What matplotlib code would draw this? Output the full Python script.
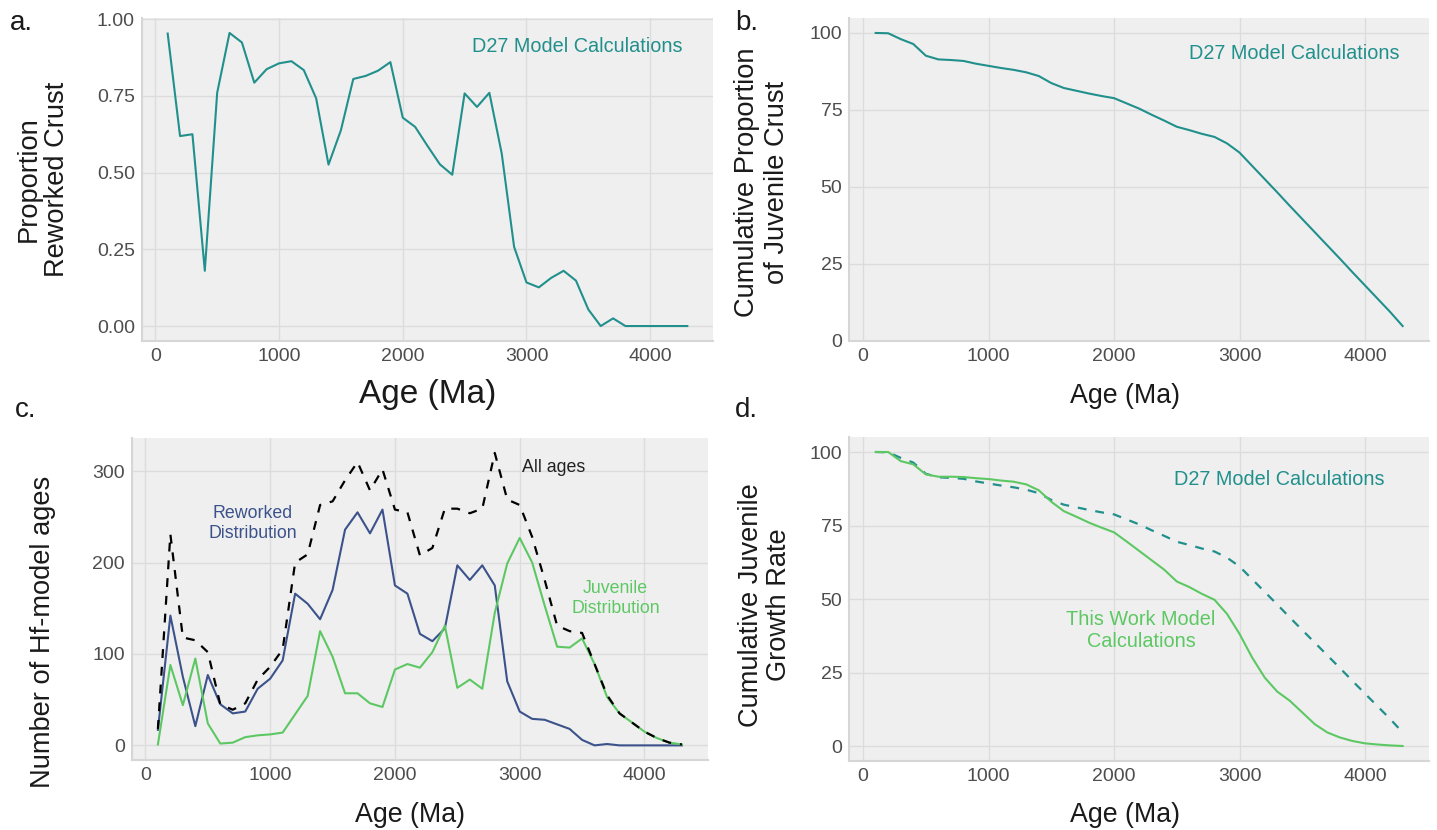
import matplotlib
matplotlib.use("Agg")
import matplotlib.pyplot as plt
from matplotlib.ticker import FormatStrFormatter

plt.rcParams['font.family'] = ['Liberation Sans', 'DejaVu Sans']

# Figure size in pixels (saved at dpi 100)
W, H = 1437, 830

# Colours (viridis picks, as in the original)
TEAL = '#21908C'
BLUE = '#3B528B'
GREEN = '#5DC863'
PANEL_BG = '#EFEFEF'
GRID = '#DCDCDC'
AXIS_LINE = '#D6D6D6'
TICK_COLOR = '#4D4D4D'

# Age bins (Ma)
ages = [100, 200, 300, 400, 500, 600, 700, 800, 900, 1000,
        1100, 1200, 1300, 1400, 1500, 1600, 1700, 1800, 1900, 2000,
        2100, 2200, 2300, 2400, 2500, 2600, 2700, 2800, 2900, 3000,
        3100, 3200, 3300, 3400, 3500, 3600, 3700, 3800, 3900, 4000,
        4100, 4200, 4300]

# a. proportion of reworked crust (D27 model)
reworked_prop = [0.953, 0.619, 0.625, 0.180, 0.760, 0.955, 0.924, 0.793, 0.837, 0.856,
                 0.863, 0.834, 0.742, 0.526, 0.638, 0.805, 0.815, 0.832, 0.860, 0.679,
                 0.649, 0.587, 0.527, 0.493, 0.758, 0.714, 0.760, 0.562, 0.258, 0.142,
                 0.126, 0.157, 0.180, 0.148, 0.054, 0.0, 0.025, 0.0, 0.0, 0.0,
                 0.0, 0.0, 0.0]

# b./d. cumulative juvenile crust, D27 model
d27_juvenile = [100.0, 99.9, 98.0, 96.4, 92.6, 91.4, 91.2, 90.9, 90.0, 89.3,
                88.6, 88.0, 87.2, 86.0, 83.7, 82.1, 81.2, 80.3, 79.5, 78.8,
                77.1, 75.4, 73.4, 71.5, 69.5, 68.4, 67.2, 66.2, 64.1, 61.1,
                56.8, 52.5, 48.2, 43.8, 39.5, 35.2, 30.9, 26.6, 22.2, 17.9,
                13.6, 9.3, 4.7]

# d. cumulative juvenile growth, this work
this_work = [100.0, 100.0, 96.9, 95.8, 92.4, 91.6, 91.6, 91.5, 91.1, 90.8,
             90.3, 89.9, 89.0, 87.0, 83.1, 79.9, 78.0, 76.0, 74.3, 72.7,
             69.6, 66.4, 63.2, 60.0, 56.0, 54.1, 51.8, 49.8, 45.0, 38.2,
             30.2, 23.4, 18.6, 15.5, 11.5, 7.5, 4.7, 3.0, 1.8, 1.0,
             0.6, 0.3, 0.1]

# c. Hf-model age counts
reworked_counts = [17, 142, 75, 21, 77, 45, 35, 37, 62, 73,
                   93, 166, 155, 138, 170, 236, 255, 232, 258, 175,
                   166, 122, 114, 128, 197, 181, 197, 175, 70, 37,
                   29, 28, 23, 18, 6, 0, 1.5, 0, 0, 0,
                   0, 0, 0]
juvenile_counts = [1, 88, 44, 95, 24, 2, 3, 9, 11, 12,
                   14, 34, 54, 125, 97, 57, 57, 46, 42, 83,
                   89, 85, 102, 131, 63, 72, 62, 145, 199, 227,
                   200, 153, 108, 107, 117, 89, 53, 35, 25, 15,
                   8, 3, 1]
all_counts = [18, 231, 118, 115, 102, 45, 39, 46, 72, 86,
              105, 200, 209, 263, 267, 290, 310, 279, 302, 258,
              255, 208, 216, 259, 259, 254, 259, 320, 269, 263,
              228, 181, 131, 125, 123, 89, 55, 35, 25, 15,
              8, 3, 1]

x_ticks = [0, 1000, 2000, 3000, 4000]


def px_rect(left, top, right, bottom):
    """Axes rectangle from pixel edges (origin top-left)"""
    return [left / W, 1 - bottom / H, (right - left) / W, (bottom - top) / H]


def fig_text(fig, x, y, s, **kw):
    """Figure text placed in pixel coordinates (origin top-left)"""
    return fig.text(x / W, 1 - y / H, s, **kw)


def style_axes(ax):
    ax.set_facecolor(PANEL_BG)
    for side in ('top', 'right'):
        ax.spines[side].set_visible(False)
    for side in ('left', 'bottom'):
        ax.spines[side].set_color(AXIS_LINE)
        ax.spines[side].set_linewidth(1.5)
    ax.grid(True, color=GRID, linewidth=1.0)
    ax.set_axisbelow(True)
    ax.tick_params(length=0, labelsize=14, labelcolor=TICK_COLOR, pad=5)
    ax.set_xticks(x_ticks)


fig = plt.figure(figsize=(W / 100, H / 100), dpi=100)

# a. Proportion reworked crust
ax_a = fig.add_axes(px_rect(141.7, 18.3, 713.3, 340.7))
style_axes(ax_a)
ax_a.plot(ages, reworked_prop, color=TEAL, lw=1.5)
ax_a.set_yticks([0, 0.25, 0.5, 0.75, 1.0])
ax_a.yaxis.set_major_formatter(FormatStrFormatter('%.2f'))
ax_a.text(3410, 0.91, 'D27 Model Calculations', color=TEAL, fontsize=14.3,
          ha='center', va='center')

# b. Cumulative proportion of juvenile crust
ax_b = fig.add_axes(px_rect(849.3, 18.3, 1429, 340.7))
style_axes(ax_b)
ax_b.plot(ages, d27_juvenile, color=TEAL, lw=1.5)
ax_b.set_yticks([0, 25, 50, 75, 100])
ax_b.text(3435, 93.4, 'D27 Model Calculations', color=TEAL, fontsize=14.3,
          ha='center', va='center')

# c. Number of Hf-model ages
ax_c = fig.add_axes(px_rect(131.7, 438.3, 708.1, 760))
style_axes(ax_c)
ax_c.plot(ages, reworked_counts, color=BLUE, lw=1.5)
ax_c.plot(ages, juvenile_counts, color=GREEN, lw=1.5)
ax_c.plot(ages, all_counts, color='black', lw=1.6, linestyle=(0, (4, 4)))
ax_c.set_yticks([0, 100, 200, 300])
ax_c.text(3271, 304, 'All ages', color='#222222', fontsize=12.8,
          ha='center', va='center')
ax_c.text(858, 243, 'Reworked\nDistribution', color=BLUE, fontsize=12.8,
          ha='center', va='center', linespacing=1.2)
ax_c.text(3770, 161, 'Juvenile\nDistribution', color=GREEN, fontsize=12.8,
          ha='center', va='center', linespacing=1.2)

# d. Cumulative juvenile growth rate
ax_d = fig.add_axes(px_rect(849.3, 437.3, 1429, 760.7))
style_axes(ax_d)
ax_d.plot(ages, d27_juvenile, color=TEAL, lw=1.6, linestyle=(0, (4, 4)))
ax_d.plot(ages, this_work, color=GREEN, lw=1.5)
ax_d.set_yticks([0, 25, 50, 75, 100])
ax_d.text(3315, 90.5, 'D27 Model Calculations', color=TEAL, fontsize=14.3,
          ha='center', va='center')
ax_d.text(2215, 39.5, 'This Work Model\nCalculations', color=GREEN, fontsize=14.3,
          ha='center', va='center', linespacing=1.2)

# Axis titles
title_kw = dict(color='#1A1A1A', ha='center', va='center')
fig_text(fig, 427.5, 395, 'Age (Ma)', fontsize=24, **title_kw)
fig_text(fig, 1125, 396, 'Age (Ma)', fontsize=19.3, **title_kw)
fig_text(fig, 410, 815, 'Age (Ma)', fontsize=19.3, **title_kw)
fig_text(fig, 1125, 815, 'Age (Ma)', fontsize=19.3, **title_kw)

fig_text(fig, 43, 179.5, 'Proportion\nReworked Crust', fontsize=19.6,
         rotation=90, linespacing=1.15, **title_kw)
fig_text(fig, 762, 182, 'Cumulative Proportion\nof Juvenile Crust', fontsize=19.6,
         rotation=90, linespacing=1.15, **title_kw)
fig_text(fig, 43, 632, 'Number of Hf-model ages', fontsize=19.6,
         rotation=90, **title_kw)
fig_text(fig, 765, 605, 'Cumulative Juvenile\nGrowth Rate', fontsize=19.6,
         rotation=90, linespacing=1.15, **title_kw)

# Panel letters
letter_kw = dict(fontsize=20, color='#1A1A1A', ha='left', va='baseline')
fig_text(fig, 10, 30, 'a.', **letter_kw)
fig_text(fig, 735, 30, 'b.', **letter_kw)
fig_text(fig, 15, 417, 'c.', **letter_kw)
fig_text(fig, 735, 417, 'd.', **letter_kw)

fig.savefig('out.png', dpi=100, facecolor='white')
plt.close(fig)
